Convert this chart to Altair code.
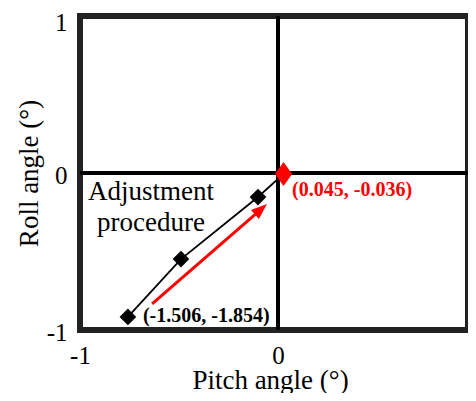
import altair as alt
import pandas as pd

# series (axis units)
path_x = [-0.758, -0.49, -0.101, 0.028]
path_y = [-0.917, -0.548, -0.153, -0.006]
point_color = ["black", "black", "black", "red"]

arrow_x = [-0.636, -0.086]
arrow_y = [-0.834, -0.231]

tick_vals = [-1, 0, 1]

labels_text = ["(-1.506, -1.854)", "(0.045, -0.036)"]
labels_x = [-0.682, 0.071]
labels_y = [-0.949, -0.146]
labels_color = ["black", "red"]

note_text = ["Adjustment", "procedure"]
note_x = [-0.641, -0.641]
note_y = [-0.172, -0.369]

FONT = "Times New Roman, Liberation Serif, serif"

# x range runs a little past the visible frame, as in the cropped original
xs = alt.Scale(domain=[-1, 1], nice=False, zero=False, range=[0, 396])
ys = alt.Scale(domain=[-1, 1], nice=False, zero=False)

pts = pd.DataFrame({"x": path_x, "y": path_y, "c": point_color, "o": range(len(path_x))})
arr = pd.DataFrame({"x": arrow_x, "y": arrow_y, "o": [0, 1]})
lab = pd.DataFrame({"x": labels_x, "y": labels_y, "t": labels_text, "c": labels_color})
note = pd.DataFrame({"x": note_x, "y": note_y, "t": note_text})
zero = pd.DataFrame({"v": [0]})

xaxis = alt.Axis(values=tick_vals, title="Pitch angle (°)", grid=False, ticks=False, domain=False,
                 labelExpr="datum.value + ''",
                 labelFont=FONT, labelFontSize=25, labelColor="black", labelPadding=13,
                 labelFlush=False, labelOverlap=False,
                 titleFont=FONT, titleFontSize=27, titleFontWeight="normal", titleColor="black",
                 titleX=190, titleY=58, titleBaseline="alphabetic", titleAlign="center")
yaxis = alt.Axis(values=tick_vals, title="Roll angle (°)", grid=False, ticks=False, domain=False,
                 labelExpr="datum.value + ''",
                 labelFont=FONT, labelFontSize=25, labelColor="black", labelPadding=13,
                 labelOffset={"condition": {"test": "datum.value == 1", "value": 6}, "value": 2},
                 labelFlush=False, labelOverlap=False,
                 titleFont=FONT, titleFontSize=27, titleFontWeight="normal", titleColor="black",
                 titleX=-43, titleY=157, titleBaseline="alphabetic", titleAlign="center",
                 titleAngle=270)

base = alt.Chart(pts)

vrule = alt.Chart(zero).mark_rule(color="black", strokeWidth=4).encode(
    x=alt.X("v:Q", scale=xs, axis=xaxis))
hrule = alt.Chart(zero).mark_rule(color="black", strokeWidth=4).encode(
    y=alt.Y("v:Q", scale=ys, axis=yaxis))

line = base.mark_line(color="black", strokeWidth=1.8).encode(
    x=alt.X("x:Q", scale=xs), y=alt.Y("y:Q", scale=ys), order="o:Q")

black_pts = base.transform_filter("datum.c == 'black'").mark_point(
    shape="diamond", size=280, filled=True, color="black", opacity=1).encode(
    x=alt.X("x:Q", scale=xs), y=alt.Y("y:Q", scale=ys))
red_pts = base.transform_filter("datum.c == 'red'").mark_point(
    shape="M-0.72,0L0,-1L0.72,0L0,1Z", size=576, filled=True, color="#ff0000", opacity=1).encode(
    x=alt.X("x:Q", scale=xs), y=alt.Y("y:Q", scale=ys))

arrow_line = alt.Chart(arr).mark_line(color="#ff0000", strokeWidth=3).encode(
    x=alt.X("x:Q", scale=xs), y=alt.Y("y:Q", scale=ys), order="o:Q")
arrow_head = alt.Chart(arr).transform_filter("datum.o == 1").mark_point(
    shape="M0,-1L0.75,1L-0.75,1Z", size=256, angle=49, filled=True, color="#ff0000", opacity=1).encode(
    x=alt.X("x:Q", scale=xs), y=alt.Y("y:Q", scale=ys))

labels = alt.Chart(lab).mark_text(font=FONT, fontSize=20, fontWeight="bold", align="left",
                                  baseline="alphabetic").encode(
    x=alt.X("x:Q", scale=xs), y=alt.Y("y:Q", scale=ys), text="t:N",
    color=alt.Color("c:N", scale=None))

notes = alt.Chart(note).mark_text(font=FONT, fontSize=27, align="center", baseline="alphabetic",
                                  color="black").encode(
    x=alt.X("x:Q", scale=xs), y=alt.Y("y:Q", scale=ys), text="t:N")

chart = alt.layer(vrule, hrule, line, arrow_line, arrow_head, black_pts, red_pts, labels, notes).properties(
    width=388, height=314,
    autosize=alt.AutoSizeParams(type="none"),
    padding={"left": 72, "top": 8, "right": 0, "bottom": 63},
    background="white",
).configure_view(stroke="#222222", strokeWidth=6)

chart.save("out.html", embed_options={"renderer": "svg", "actions": False})
